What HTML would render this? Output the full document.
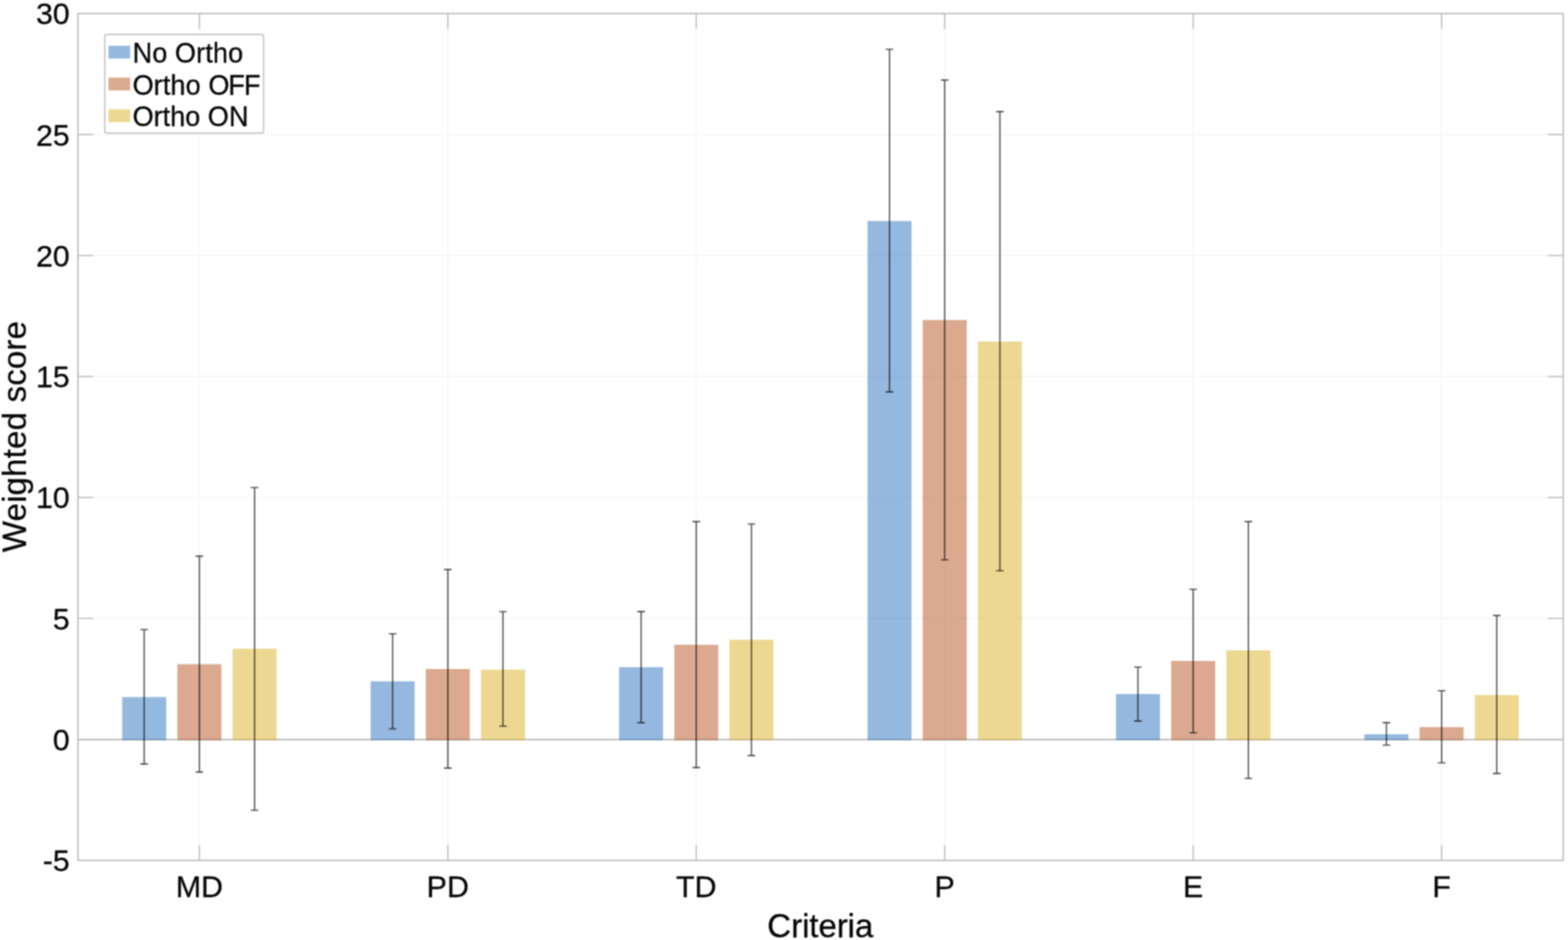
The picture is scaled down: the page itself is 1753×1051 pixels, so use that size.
<!DOCTYPE html>
<html lang="en"><head><meta charset="utf-8"><title>Weighted score by criteria</title>
<style>html,body{margin:0;padding:0;background:#fff;}body{width:1753px;height:1051px;overflow:hidden;}svg{display:block;}text{font-family:"Liberation Sans", "Helvetica Neue", Helvetica, Arial, sans-serif;fill:#050505;stroke:#050505;stroke-width:0.3px;stroke-linejoin:round;}</style>
</head><body>
<svg width="1753" height="1051" viewBox="0 0 1753 1051">
<defs><filter id="soft" x="0" y="0" width="1753" height="1051" filterUnits="userSpaceOnUse" color-interpolation-filters="sRGB"><feConvolveMatrix order="3" kernelMatrix="1 2 1 2 4 2 1 2 1" edgeMode="duplicate" preserveAlpha="true"/></filter></defs>
<rect x="0" y="0" width="1753" height="1051" fill="#ffffff"/>
<g filter="url(#soft)">
<rect x="0" y="0" width="1753" height="1051" fill="#ffffff"/>
<g stroke="#f3f3f3" stroke-width="1.2" fill="none">
<line x1="87.2" y1="691.49" x2="1747.6" y2="691.49"/>
<line x1="87.2" y1="556.23" x2="1747.6" y2="556.23"/>
<line x1="87.2" y1="420.97" x2="1747.6" y2="420.97"/>
<line x1="87.2" y1="285.71" x2="1747.6" y2="285.71"/>
<line x1="87.2" y1="150.46" x2="1747.6" y2="150.46"/>
<line x1="222.90" y1="15.2" x2="222.90" y2="962.0"/>
<line x1="500.66" y1="15.2" x2="500.66" y2="962.0"/>
<line x1="778.42" y1="15.2" x2="778.42" y2="962.0"/>
<line x1="1056.18" y1="15.2" x2="1056.18" y2="962.0"/>
<line x1="1333.94" y1="15.2" x2="1333.94" y2="962.0"/>
<line x1="1611.70" y1="15.2" x2="1611.70" y2="962.0"/>
</g>
<line x1="87.2" y1="826.80" x2="1747.6" y2="826.80" stroke="#bcbcbc" stroke-width="1.7"/>
<g stroke="none" fill-opacity="0.5">
<rect x="136.60" y="779.40" width="49.20" height="48.20" fill="#2971bd"/>
<rect x="198.30" y="742.60" width="49.20" height="85.00" fill="#b7531f"/>
<rect x="260.00" y="725.30" width="49.20" height="102.30" fill="#dbb125"/>
<rect x="414.36" y="761.80" width="49.20" height="65.80" fill="#2971bd"/>
<rect x="476.06" y="748.00" width="49.20" height="79.60" fill="#b7531f"/>
<rect x="537.76" y="748.70" width="49.20" height="78.90" fill="#dbb125"/>
<rect x="692.12" y="746.00" width="49.20" height="81.60" fill="#2971bd"/>
<rect x="753.82" y="720.90" width="49.20" height="106.70" fill="#b7531f"/>
<rect x="815.52" y="715.30" width="49.20" height="112.30" fill="#dbb125"/>
<rect x="969.88" y="247.20" width="49.20" height="580.40" fill="#2971bd"/>
<rect x="1031.58" y="357.80" width="49.20" height="469.80" fill="#b7531f"/>
<rect x="1093.28" y="381.90" width="49.20" height="445.70" fill="#dbb125"/>
<rect x="1247.64" y="776.00" width="49.20" height="51.60" fill="#2971bd"/>
<rect x="1309.34" y="739.00" width="49.20" height="88.60" fill="#b7531f"/>
<rect x="1371.04" y="727.10" width="49.20" height="100.50" fill="#dbb125"/>
<rect x="1525.40" y="821.00" width="49.20" height="6.60" fill="#2971bd"/>
<rect x="1587.10" y="813.00" width="49.20" height="14.60" fill="#b7531f"/>
<rect x="1648.80" y="777.10" width="49.20" height="50.50" fill="#dbb125"/>
</g>
<g stroke="#b0b0b0" stroke-width="1.2" fill="none">
<line x1="87.2" y1="691.49" x2="104.2" y2="691.49"/>
<line x1="1730.6" y1="691.49" x2="1747.6" y2="691.49"/>
<line x1="87.2" y1="556.23" x2="104.2" y2="556.23"/>
<line x1="1730.6" y1="556.23" x2="1747.6" y2="556.23"/>
<line x1="87.2" y1="420.97" x2="104.2" y2="420.97"/>
<line x1="1730.6" y1="420.97" x2="1747.6" y2="420.97"/>
<line x1="87.2" y1="285.71" x2="104.2" y2="285.71"/>
<line x1="1730.6" y1="285.71" x2="1747.6" y2="285.71"/>
<line x1="87.2" y1="150.46" x2="104.2" y2="150.46"/>
<line x1="1730.6" y1="150.46" x2="1747.6" y2="150.46"/>
<line x1="222.90" y1="945.0" x2="222.90" y2="962.0"/>
<line x1="222.90" y1="15.2" x2="222.90" y2="32.2"/>
<line x1="500.66" y1="945.0" x2="500.66" y2="962.0"/>
<line x1="500.66" y1="15.2" x2="500.66" y2="32.2"/>
<line x1="778.42" y1="945.0" x2="778.42" y2="962.0"/>
<line x1="778.42" y1="15.2" x2="778.42" y2="32.2"/>
<line x1="1056.18" y1="945.0" x2="1056.18" y2="962.0"/>
<line x1="1056.18" y1="15.2" x2="1056.18" y2="32.2"/>
<line x1="1333.94" y1="945.0" x2="1333.94" y2="962.0"/>
<line x1="1333.94" y1="15.2" x2="1333.94" y2="32.2"/>
<line x1="1611.70" y1="945.0" x2="1611.70" y2="962.0"/>
<line x1="1611.70" y1="15.2" x2="1611.70" y2="32.2"/>
</g>
<g stroke="#000000" stroke-width="1.35" fill="none" stroke-opacity="0.74">
<path d="M161.20 703.80V854.20M157.00 703.80H165.40M157.00 854.20H165.40"/>
<path d="M222.90 621.70V863.20M218.70 621.70H227.10M218.70 863.20H227.10"/>
<path d="M284.60 545.10V905.90M280.40 545.10H288.80M280.40 905.90H288.80"/>
<path d="M438.96 708.60V814.80M434.76 708.60H443.16M434.76 814.80H443.16"/>
<path d="M500.66 636.70V858.70M496.46 636.70H504.86M496.46 858.70H504.86"/>
<path d="M562.36 683.90V811.80M558.16 683.90H566.56M558.16 811.80H566.56"/>
<path d="M716.72 683.70V808.00M712.52 683.70H720.92M712.52 808.00H720.92"/>
<path d="M778.42 583.20V858.20M774.22 583.20H782.62M774.22 858.20H782.62"/>
<path d="M840.12 585.80V844.70M835.92 585.80H844.32M835.92 844.70H844.32"/>
<path d="M994.48 55.10V438.20M990.28 55.10H998.68M990.28 438.20H998.68"/>
<path d="M1056.18 89.50V625.80M1051.98 89.50H1060.38M1051.98 625.80H1060.38"/>
<path d="M1117.88 124.70V638.10M1113.68 124.70H1122.08M1113.68 638.10H1122.08"/>
<path d="M1272.24 745.90V806.20M1268.04 745.90H1276.44M1268.04 806.20H1276.44"/>
<path d="M1333.94 658.80V819.30M1329.74 658.80H1338.14M1329.74 819.30H1338.14"/>
<path d="M1395.64 583.20V870.30M1391.44 583.20H1399.84M1391.44 870.30H1399.84"/>
<path d="M1550.00 808.00V833.10M1545.80 808.00H1554.20M1545.80 833.10H1554.20"/>
<path d="M1611.70 772.30V852.90M1607.50 772.30H1615.90M1607.50 852.90H1615.90"/>
<path d="M1673.40 688.20V864.70M1669.20 688.20H1677.60M1669.20 864.70H1677.60"/>
</g>
<rect x="87.2" y="15.2" width="1660.4" height="946.8" fill="none" stroke="#bcbcbc" stroke-width="1.6"/>
<rect x="117.2" y="38.6" width="177.4" height="110.1" rx="2" ry="2" fill="#ffffff" stroke="#c0c0c0" stroke-width="1.5"/>
<rect x="121.3" y="51.1" width="24.2" height="14.3" fill="#94b8de"/>
<text transform="translate(148.20 70.10) scale(0.9620 1)" font-size="31.5" letter-spacing="0.10">No Ortho</text>
<rect x="121.3" y="86.8" width="24.2" height="14.3" fill="#dba98f"/>
<text transform="translate(148.20 105.60) scale(0.9620 1)" font-size="31.5" letter-spacing="0.10">Ortho <tspan letter-spacing="-1.2">OFF</tspan></text>
<rect x="121.3" y="122.3" width="24.2" height="14.3" fill="#edd892"/>
<text transform="translate(148.20 141.20) scale(0.9620 1)" font-size="31.5" letter-spacing="0.00">Ortho ON</text>
<g font-size="34.0" text-anchor="end">
<text x="78.0" y="974.15">-5</text>
<text x="78.0" y="838.89">0</text>
<text x="78.0" y="703.64">5</text>
<text x="78.0" y="568.38">10</text>
<text x="78.0" y="433.12">15</text>
<text x="78.0" y="297.86">20</text>
<text x="78.0" y="162.61">25</text>
<text x="78.0" y="27.35">30</text>
</g>
<g font-size="34.0" text-anchor="middle">
<text x="222.90" y="1003.3">MD</text>
<text x="500.66" y="1003.3">PD</text>
<text x="778.42" y="1003.3">TD</text>
<text x="1056.18" y="1003.3">P</text>
<text x="1333.94" y="1003.3">E</text>
<text x="1611.70" y="1003.3">F</text>
</g>
<text x="917.0" y="1047.8" font-size="37.0" text-anchor="middle" letter-spacing="-0.12">Criteria</text>
<text transform="translate(29.4 488.1) rotate(-90)" font-size="37.0" text-anchor="middle" letter-spacing="0.18">Weighted score</text>
</g>
</svg>
</body></html>
